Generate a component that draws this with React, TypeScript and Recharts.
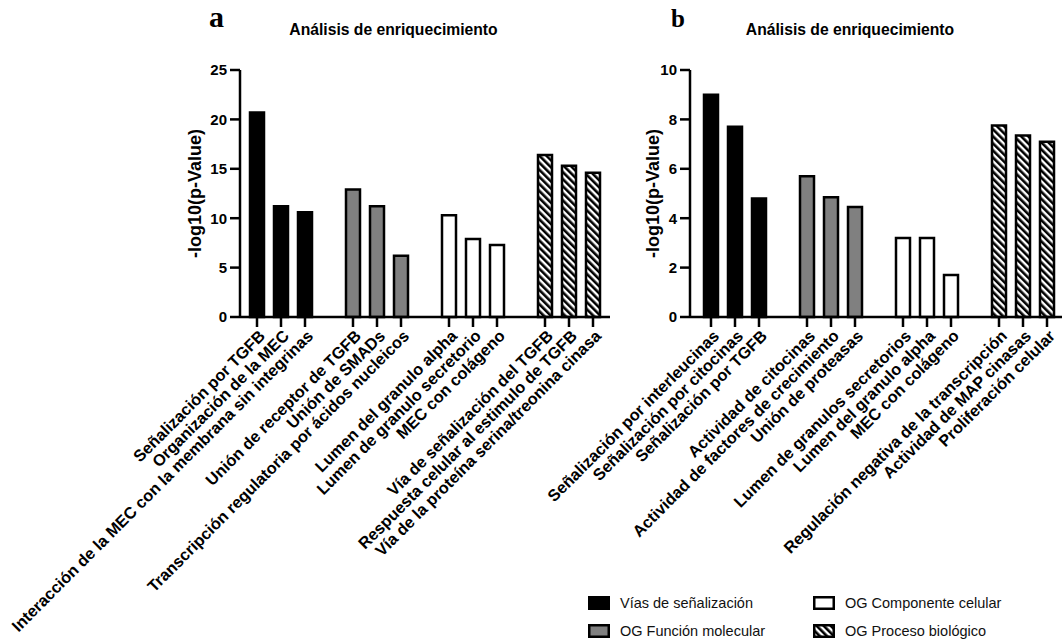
import { BarChart, Bar, XAxis, YAxis, Cell, Label } from "recharts";

const font = "'Liberation Sans', Arial, sans-serif";
const serif = "'Liberation Serif', 'DejaVu Serif', serif";

const groupNames = [
  "Vías de señalización",
  "OG Función molecular",
  "OG Componente celular",
  "OG Proceso biológico",
];
const groupFills = ["#000000", "#808080", "#ffffff", "url(#hatch)"];

const labelsA = [
  "Señalización por TGFB",
  "Organización de la MEC",
  "Interacción de la MEC con la membrana sin integrinas",
  "Unión de receptor de TGFB",
  "Unión de SMADs",
  "Transcripción regulatoria por ácidos nucleicos",
  "Lumen del granulo alpha",
  "Lumen de granulo secretorio",
  "MEC con colágeno",
  "Vía de señalización del TGFB",
  "Respuesta celular al estimulo de TGFB",
  "Vía de la proteína serina/treonina cinasa",
];
const valuesA = [20.7, 11.2, 10.6, 12.9, 11.2, 6.2, 10.3, 7.9, 7.3, 16.4, 15.3, 14.6];
const groupsA = [0, 0, 0, 1, 1, 1, 2, 2, 2, 3, 3, 3];
const ticksA = [0, 5, 10, 15, 20, 25];

const labelsB = [
  "Señalización por interleucinas",
  "Señalización por citocinas",
  "Señalización por TGFB",
  "Actividad de citocinas",
  "Actividad de factores de crecimiento",
  "Unión de proteasas",
  "Lumen de granulos secretorios",
  "Lumen del granulo alpha",
  "MEC con colágeno",
  "Regulación negativa de la transcripción",
  "Actividad de MAP cinasas",
  "Proliferación celular",
];
const valuesB = [9.0, 7.7, 4.8, 5.7, 4.85, 4.45, 3.2, 3.2, 1.7, 7.75, 7.35, 7.1];
const groupsB = [0, 0, 0, 1, 1, 1, 2, 2, 2, 3, 3, 3];
const ticksB = [0, 2, 4, 6, 8, 10];

// insert an empty slot between groups
function buildRows(labels: string[], values: number[], groups: number[]) {
  const rows: { name: string; value: number | null; group: number }[] = [];
  labels.forEach((name, i) => {
    if (i > 0 && groups[i] !== groups[i - 1]) {
      rows.push({ name: " ".repeat(i), value: null, group: -1 });
    }
    rows.push({ name, value: values[i], group: groups[i] });
  });
  return rows;
}

const rowsA = buildRows(labelsA, valuesA, groupsA);
const rowsB = buildRows(labelsB, valuesB, groupsB);

const CatTick = (props: any) => {
  const { x, y, payload } = props;
  if (!payload.value.trim()) return null;
  return (
    <g transform={`translate(${x},${y})`}>
      <line x1={0} x2={0} y1={0} y2={10} stroke="#000" strokeWidth={2.5} />
      <text
        transform="translate(5,16) rotate(-45)"
        textAnchor="end"
        dy="0.35em"
        fontSize={16.3}
        fontWeight="bold"
        fontFamily={font}
        fill="#000"
      >
        {payload.value}
      </text>
    </g>
  );
};

const Panel = ({ rows, ticks, width, left, padding, labelOffset }: any) => (
  <BarChart
    width={width}
    height={640}
    data={rows}
    margin={{ top: 70, right: 10, left, bottom: 23 }}
    barCategoryGap={0}
  >
    <XAxis
      dataKey="name"
      interval={0}
      height={300}
      tickLine={false}
      tickSize={0}
      tickMargin={0}
      padding={padding}
      axisLine={{ stroke: "#000", strokeWidth: 2.5 }}
      tick={<CatTick />}
    />
    <YAxis
      width={60}
      domain={[0, ticks[ticks.length - 1]]}
      ticks={ticks}
      tickSize={10}
      tickMargin={3}
      axisLine={{ stroke: "#000", strokeWidth: 2.5 }}
      tickLine={{ stroke: "#000", strokeWidth: 2.5 }}
      tick={{ fill: "#000", fontSize: 15, fontWeight: "bold", fontFamily: font }}
    >
      <Label
        value="-log10(p-Value)"
        angle={-90}
        position="insideLeft"
        offset={labelOffset}
        style={{ textAnchor: "middle", fontSize: 18, fontWeight: "bold", fontFamily: font, fill: "#000" }}
      />
    </YAxis>
    <Bar dataKey="value" barSize={14} isAnimationActive={false}>
      {rows.map((r: any, i: number) => (
        <Cell
          key={`c-${i}`}
          fill={r.group >= 0 ? groupFills[r.group] : "none"}
          stroke="#000"
          strokeWidth={2.5}
        />
      ))}
    </Bar>
  </BarChart>
);

const Swatch = ({ fill }: { fill: string }) => (
  <svg width={22} height={14} style={{ display: "block" }}>
    <rect x={1.25} y={1.25} width={19.5} height={11.5} fill={fill} stroke="#000" strokeWidth={2.5} />
  </svg>
);

const App = () => {
  return (
    <div
      style={{
        position: "absolute",
        left: 0,
        top: 0,
        width: 1062,
        height: 640,
        overflow: "hidden",
        background: "#fff",
        fontFamily: font,
      }}
    >
      <svg width={0} height={0} style={{ position: "absolute" }}>
        <defs>
          <pattern id="hatch" width={5} height={5} patternUnits="userSpaceOnUse" patternTransform="rotate(-45)">
            <rect width={5} height={5} fill="#fff" />
            <rect width={2.6} height={5} fill="#000" />
          </pattern>
        </defs>
      </svg>

      <div style={{ position: "absolute", left: 0, top: 0 }}>
        <Panel rows={rowsA} ticks={ticksA} width={620} left={180} padding={{ left: 5, right: 5 }} labelOffset={15} />
      </div>
      <div style={{ position: "absolute", left: 480, top: 0 }}>
        <Panel rows={rowsB} ticks={ticksB} width={595} left={150} padding={{ left: 9, right: 6 }} labelOffset={23} />
      </div>

      <div style={{ position: "absolute", left: 209, top: 0, fontFamily: serif, fontWeight: "bold", fontSize: 30, lineHeight: "34px" }}>a</div>
      <div style={{ position: "absolute", left: 671, top: 5, fontFamily: serif, fontWeight: "bold", fontSize: 25 }}>b</div>
      <div style={{ position: "absolute", left: 288, top: 21, width: 211, textAlign: "center", fontWeight: "bold", fontSize: 15.7 }}>
        Análisis de enriquecimiento
      </div>
      <div style={{ position: "absolute", left: 744, top: 21, width: 212, textAlign: "center", fontWeight: "bold", fontSize: 15.7 }}>
        Análisis de enriquecimiento
      </div>

      <div
        style={{
          position: "absolute",
          left: 588,
          top: 595,
          display: "grid",
          gridTemplateColumns: "225px 230px",
          rowGap: 12,
          fontSize: 14.5,
          color: "#111",
        }}
      >
        {groupNames.map((g, i) => (
          <div key={g} style={{ display: "flex", alignItems: "center", gap: 10, height: 16, gridColumn: i < 2 ? 1 : 2, gridRow: (i % 2) + 1 }}>
            <Swatch fill={groupFills[i]} />
            <span>{g}</span>
          </div>
        ))}
      </div>
    </div>
  );
};

export default App;
